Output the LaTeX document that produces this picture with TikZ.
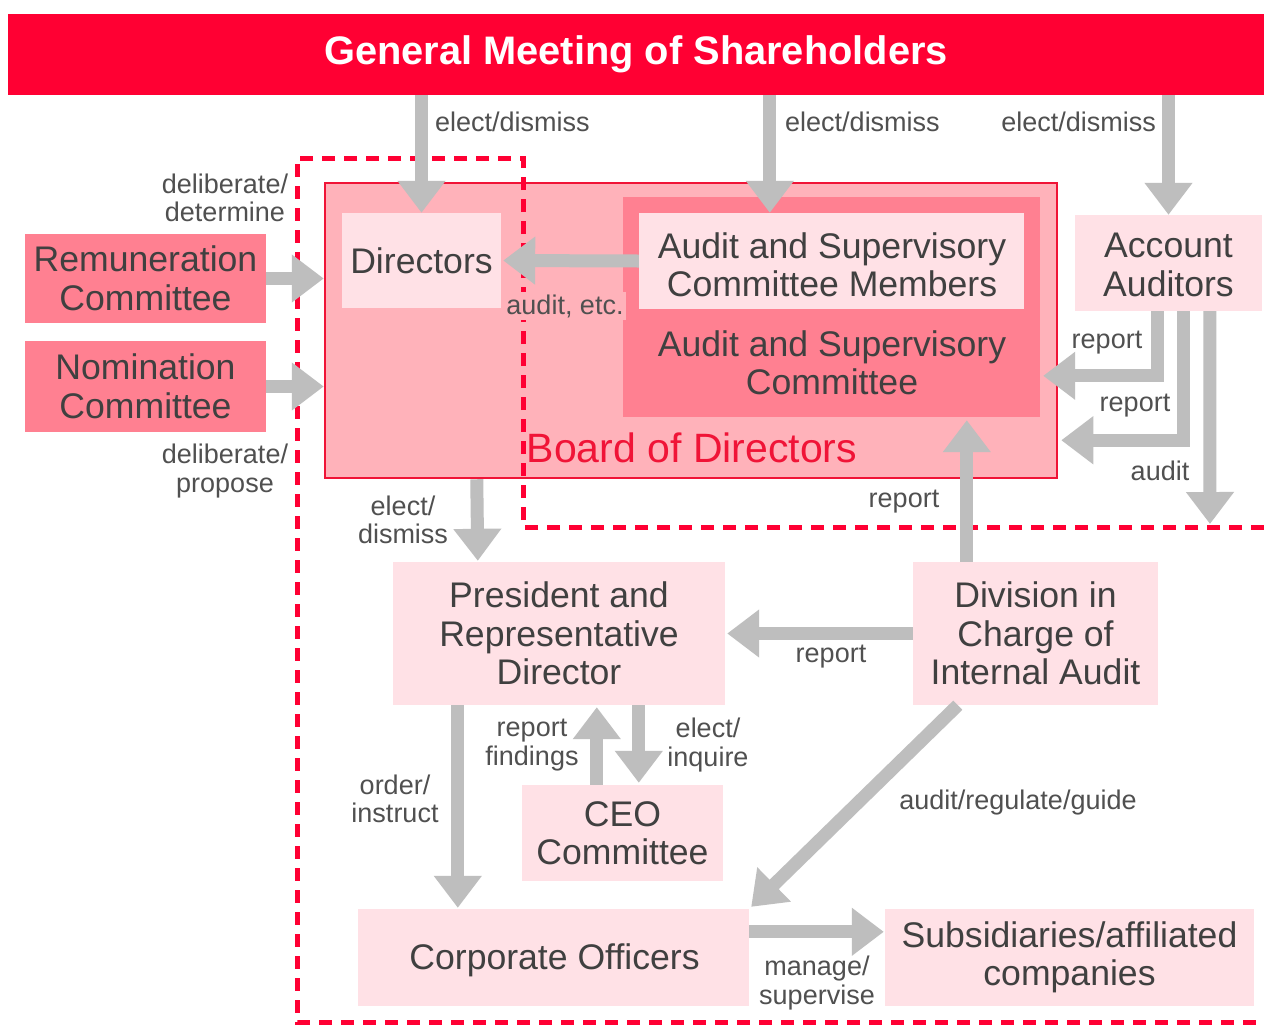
\documentclass[tikz,border=0pt]{standalone}
\usepackage{fontspec}
\setmainfont{Liberation Sans}
\usetikzlibrary{arrows.meta,calc}
\definecolor{gmred}{RGB}{255,0,51}
\definecolor{boardfill}{RGB}{255,178,186}
\definecolor{boardline}{RGB}{240,20,55}
\definecolor{darkpink}{RGB}{255,128,145}
\definecolor{lightpink}{RGB}{255,225,230}
\definecolor{arrgray}{RGB}{190,190,190}
\definecolor{txtgray}{RGB}{64,64,64}
\definecolor{lblgray}{RGB}{80,80,80}
\newcommand\bxfont{\fontsize{35.6pt}{38.5pt}\selectfont}
\newcommand\lblfont{\fontsize{27pt}{28.5pt}\selectfont}
\begin{document}
\begin{tikzpicture}[x=1pt,y=-1pt,
  box/.style={rectangle, inner sep=0pt, align=center, text=txtgray, font=\bxfont},
  lbl/.style={inner sep=1pt, align=center, text=lblgray, font=\lblfont},
  barrow/.style={draw=arrgray, line width=13pt, line join=miter, -{Triangle[width=46pt,length=32pt]}},
  dashline/.style={draw=gmred, line width=5pt, dash pattern=on 13pt off 9pt}]
\useasboundingbox (0,0) rectangle (1264,1026);
\fill[white] (0,0) rectangle (1264,1026);

% banner
\node[rectangle, fill=gmred, minimum width=1256pt, minimum height=81pt, inner sep=0pt,
      text=white, font=\fontsize{39.8pt}{42pt}\selectfont\bfseries] (gm) at (636,54.5) {General Meeting of Shareholders};

% board of directors
\node[rectangle, fill=boardfill, draw=boardline, line width=2.5pt, minimum width=732pt, minimum height=295pt, inner sep=0pt] (board) at (691,330.5) {};
\node[rectangle, fill=darkpink, minimum width=417pt, minimum height=220pt, inner sep=0pt] (asc) at (831.5,307) {};
\node[box, fill=lightpink, minimum width=385pt, minimum height=96pt] (mem) at (831.5,261) {};
\node[box] (memt) at (832,265) {Audit and Supervisory\\Committee Members};
\node[box] (asct) at (832,363) {Audit and Supervisory\\Committee};
\node[box, fill=lightpink, minimum width=159pt, minimum height=95pt] (dir) at (421.5,260.5) {Directors};
\node[inner sep=0pt, text=boardline, font=\fontsize{41pt}{44pt}\selectfont] (bodt) at (692,448) {Board of Directors};

% other boxes
\node[box, fill=lightpink, minimum width=187pt, minimum height=96pt] (aa) at (1168.5,263) {};
\node[box] (aat) at (1168.5,265) {Account\\Auditors};
\node[box, fill=darkpink, minimum width=241pt, minimum height=89pt] (rem) at (145.5,278.5) {Remuneration\\Committee};
\node[box, fill=darkpink, minimum width=241pt, minimum height=91pt] (nom) at (145.5,386.5) {Nomination\\Committee};
\node[box, fill=lightpink, minimum width=332pt, minimum height=143pt] (pres) at (559,633.5) {President and\\Representative\\Director};
\node[box, fill=lightpink, minimum width=245pt, minimum height=143pt] (div) at (1035.5,633.5) {Division in\\Charge of\\Internal Audit};
\node[box, fill=lightpink, minimum width=201pt, minimum height=96pt] (ceo) at (622.5,833) {CEO\\Committee};
\node[box, fill=lightpink, minimum width=391pt, minimum height=97pt] (corp) at (553.5,957.5) {};
\node[box] (corpt) at (554.5,960) {Corporate Officers};
\node[box, fill=lightpink, minimum width=369pt, minimum height=97pt] (sub) at (1069.5,957.5) {Subsidiaries/affiliated\\companies};

% dashed boundary
\draw[dashline] (1264,527) -- (523,527) -- (523,158) -- (297,158) -- (297,1022) -- (1264,1022);

\coordinate (auditend) at (1210,524);

% arrows
\draw[barrow] (gm.south -| dir.north) -- (dir.north);
\draw[barrow] ($(gm.south west)+(762,0)$) -- ($(mem.north west)+(131,0)$);
\draw[barrow] (gm.south -| aa.north) -- (aa.north);
\draw[barrow] (mem.west) -- ([xshift=2pt]dir.east);
\draw[barrow] (rem.east) -- (board.west |- rem.east);
\draw[barrow] (nom.east) -- (board.west |- nom.east);
\draw[barrow] ($(board.south west)+(153,0)$) -- ($(pres.north west)+(85,-1)$);
\draw[barrow] ($(div.north west)+(54,0)$) -- ($(asc.south west)+(344,3)$);
\draw[barrow] ($(aa.south west)+(83,0)$) |- ($(asc.north east)+(3,179)$);
\draw[barrow] ($(aa.south west)+(109,0)$) |- ($(board.south east)+(3,-39)$);
\draw[barrow] ($(aa.south west)+(135,0)$) -- (auditend);
\draw[barrow] (div.west) -- ([xshift=2pt]pres.east |- div.west);
\draw[barrow] ($(ceo.north west)+(75,0)$) -- ($(pres.south west)+(204,2)$);
\draw[barrow] ($(pres.south west)+(246,0)$) -- ($(ceo.north west)+(117,-2)$);
\draw[barrow] ($(pres.south west)+(65,0)$) -- ($(corp.north west)+(100,-1)$);
\draw[barrow] ($(corp.north east)+(0,23)$) -- ($(sub.north west)+(-1,23)$);
\draw[barrow] ($(div.south west)+(45,0)$) -- ($(corp.north east)+(2,-2)$);

% labels
\node[lbl, anchor=west] (l1) at (434,122) {elect/dismiss};
\node[lbl, anchor=west] (l2) at (784,122) {elect/dismiss};
\node[lbl, anchor=east] (l3) at (1157,122) {elect/dismiss};
\node[lbl] (l4) at (225,198) {deliberate/\\determine};
\node[lbl] (l5) at (225,471) {deliberate/\\propose};
\node[lbl, fill=boardfill, inner sep=2pt] (l6) at (565,306) {audit, etc.};
\node[lbl] (l7) at (403,520) {elect/\\dismiss};
\node[lbl] (l8) at (904,502) {report};
\node[lbl] (l9) at (1107,343) {report};
\node[lbl] (l10) at (1135,406) {report};
\node[lbl] (l11) at (1160,471) {audit};
\node[lbl] (l12) at (831,657) {report};
\node[lbl] (l13) at (532,745) {report\\findings};
\node[lbl] (l14) at (708,745) {elect/\\inquire};
\node[lbl] (l15) at (395,799) {order/\\instruct};
\node[lbl] (l16) at (1018,803) {audit/regulate/guide};
\node[lbl] (l17) at (817,983) {manage/\\supervise};
\end{tikzpicture}
\end{document}
